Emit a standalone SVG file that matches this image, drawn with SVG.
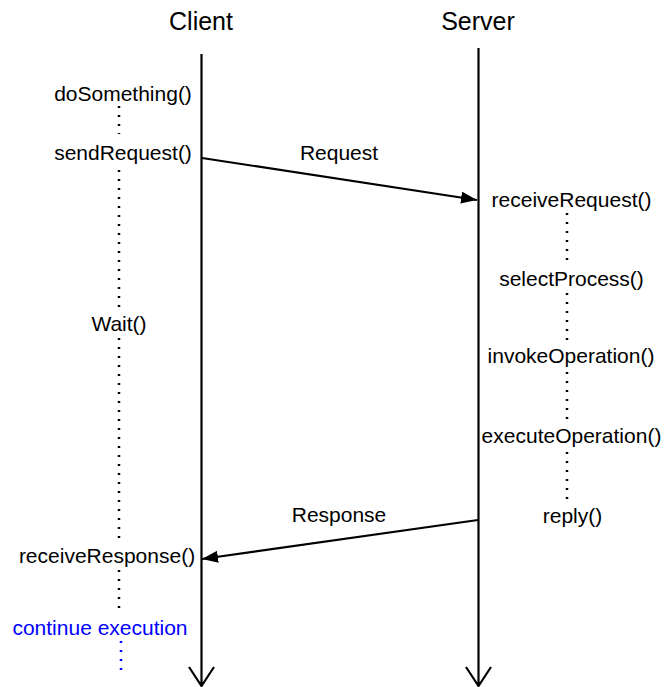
<svg xmlns="http://www.w3.org/2000/svg" width="664" height="687" viewBox="0 0 664 687">
  <style>
    text { font-family: "Liberation Sans", Arial, sans-serif; font-size: 21px; fill: #000; text-anchor: middle; }
    .head { font-size: 25px; }
    .blue { fill: #0000ff; }
    .life { stroke: #000; stroke-width: 2.2; fill: none; }
    .dots { stroke: #000; stroke-width: 2.5; stroke-dasharray: 2 7; fill: none; }
    .bdots { stroke: #0000ff; stroke-width: 2.5; stroke-dasharray: 2 7; fill: none; }
    .msg { stroke: #000; stroke-width: 2.2; fill: none; }
  </style>
  <defs>
    <marker id="filled" viewBox="0 0 16 12" refX="16" refY="6" markerWidth="16" markerHeight="12" markerUnits="userSpaceOnUse" orient="auto">
      <path d="M0,0 L16,6 L0,12 Z" fill="#000"/>
    </marker>
  </defs>
  <rect width="664" height="687" fill="#fff"/>

  <g id="client">
    <text class="head" x="201" y="30">Client</text>
    <path class="life" d="M201.5,54 V686 M189,667 L201.5,686 L214,667"/>
  </g>
  <g id="server">
    <text class="head" x="478" y="30">Server</text>
    <path class="life" d="M478.5,48 V686 M466,667 L478.5,686 L491,667"/>
  </g>

  <g id="doSomething"><text x="123" y="101">doSomething()</text></g>
  <g id="sendRequest"><text x="123" y="160">sendRequest()</text></g>
  <g id="wait"><text x="119" y="331">Wait()</text></g>
  <g id="receiveResponse"><text x="107" y="563">receiveResponse()</text></g>
  <g id="continueExecution"><text class="blue" x="100" y="635">continue execution</text></g>

  <g id="receiveRequest"><text x="571.5" y="207">receiveRequest()</text></g>
  <g id="selectProcess"><text x="571.5" y="286">selectProcess()</text></g>
  <g id="invokeOperation"><text x="571" y="363">invokeOperation()</text></g>
  <g id="executeOperation"><text x="571.5" y="443">executeOperation()</text></g>
  <g id="reply"><text x="572.5" y="523">reply()</text></g>

  <g id="connectors">
    <path class="dots" d="M119,106 V134"/>
    <path class="dots" d="M119,170 V312"/>
    <path class="dots" d="M119,338 V545"/>
    <path class="dots" d="M119,570 V614"/>
    <path class="bdots" d="M121,641 V671"/>

    <path class="dots" d="M567,213 V263"/>
    <path class="dots" d="M567,293 V341"/>
    <path class="dots" d="M567,372 V421"/>
    <path class="dots" d="M567,452 V501"/>

    <path class="msg" d="M202,158 L477,200" marker-end="url(#filled)"/>
    <text x="339" y="160">Request</text>
    <path class="msg" d="M478,520 L202,559" marker-end="url(#filled)"/>
    <text x="339" y="522">Response</text>
  </g>
</svg>
